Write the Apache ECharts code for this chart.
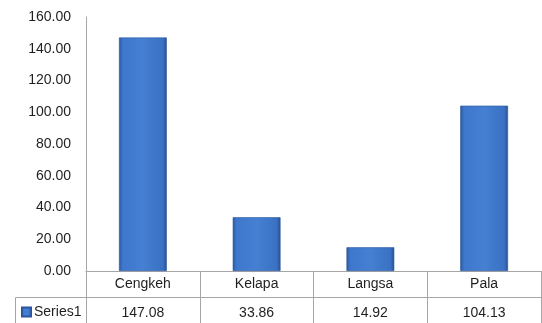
<!DOCTYPE html>
<html>
<head>
<meta charset="utf-8">
<script src="https://cdn.jsdelivr.net/npm/echarts@6/dist/echarts.min.js"></script>
<style>
html,body{margin:0;padding:0;background:#fff;}
#c{width:542px;height:323px;}
</style>
</head>
<body>
<div id="c"></div>
<script>
var categories = ['Cengkeh', 'Kelapa', 'Langsa', 'Pala'];
var series1 = [147.08, 33.86, 14.92, 104.13];
var seriesName = 'Series1';
var yMin = 0, yMax = 160, yStep = 20;

var FONT = 'Liberation Sans';
var TXT = '#1f1f1f';
var LINE = '#a6a6a6';

var chart = echarts.init(document.getElementById('c'), null, {renderer: 'canvas'});
var barColor = new echarts.graphic.LinearGradient(0, 0, 1, 0, [
  {offset: 0, color: '#2b589f'},
  {offset: 0.08, color: '#3e77cb'},
  {offset: 0.5, color: '#4580d3'},
  {offset: 0.92, color: '#3a71c3'},
  {offset: 1, color: '#27508f'}
]);

chart.setOption({
  animation: false,
  backgroundColor: '#fff',
  grid: {left: 86, right: 1, top: 17, bottom: 52, containLabel: false},
  legend: {
    data: [{name: seriesName, icon: 'rect'}],
    left: 21, top: 305, itemWidth: 9, itemHeight: 9, itemGap: 4, padding: 0,
    textStyle: {fontFamily: FONT, fontSize: 14, color: TXT, padding: [0, 0, 0, -2]}
  },
  xAxis: [{
    type: 'category',
    data: categories,
    position: 'bottom',
    axisLine: {show: true, lineStyle: {color: LINE, width: 1}},
    axisTick: {show: true, alignWithLabel: false, length: 52, lineStyle: {color: LINE, width: 1}},
    axisLabel: {fontFamily: FONT, fontSize: 14, color: TXT, margin: 6},
    splitLine: {show: false}
  }, {
    type: 'category',
    data: series1.map(function (v) { return v.toFixed(2); }),
    position: 'bottom',
    offset: 26,
    axisLine: {show: true, lineStyle: {color: LINE, width: 1}},
    axisTick: {show: false},
    axisLabel: {fontFamily: FONT, fontSize: 14, color: TXT, margin: 9},
    splitLine: {show: false}
  }],
  yAxis: {
    type: 'value',
    min: yMin, max: yMax, interval: yStep,
    axisLine: {show: true, lineStyle: {color: LINE, width: 1}},
    axisTick: {show: false},
    splitLine: {show: false},
    axisLabel: {
      fontFamily: FONT, fontSize: 14, color: TXT, margin: 15,
      formatter: function (v) { return v.toFixed(2); }
    }
  },
  graphic: [
    {type: 'line', silent: true, shape: {x1: 15.5, y1: 297.5, x2: 86, y2: 297.5}, style: {stroke: LINE, lineWidth: 1}},
    {type: 'line', silent: true, shape: {x1: 15.5, y1: 297.5, x2: 15.5, y2: 323}, style: {stroke: LINE, lineWidth: 1}}
  ],
  series: [{
    name: seriesName,
    type: 'bar',
    data: series1,
    barWidth: '42%',
    itemStyle: {color: barColor, borderColor: '#2a569f', borderWidth: 0.6},
    emphasis: {disabled: true}
  }]
});
</script>
</body>
</html>
